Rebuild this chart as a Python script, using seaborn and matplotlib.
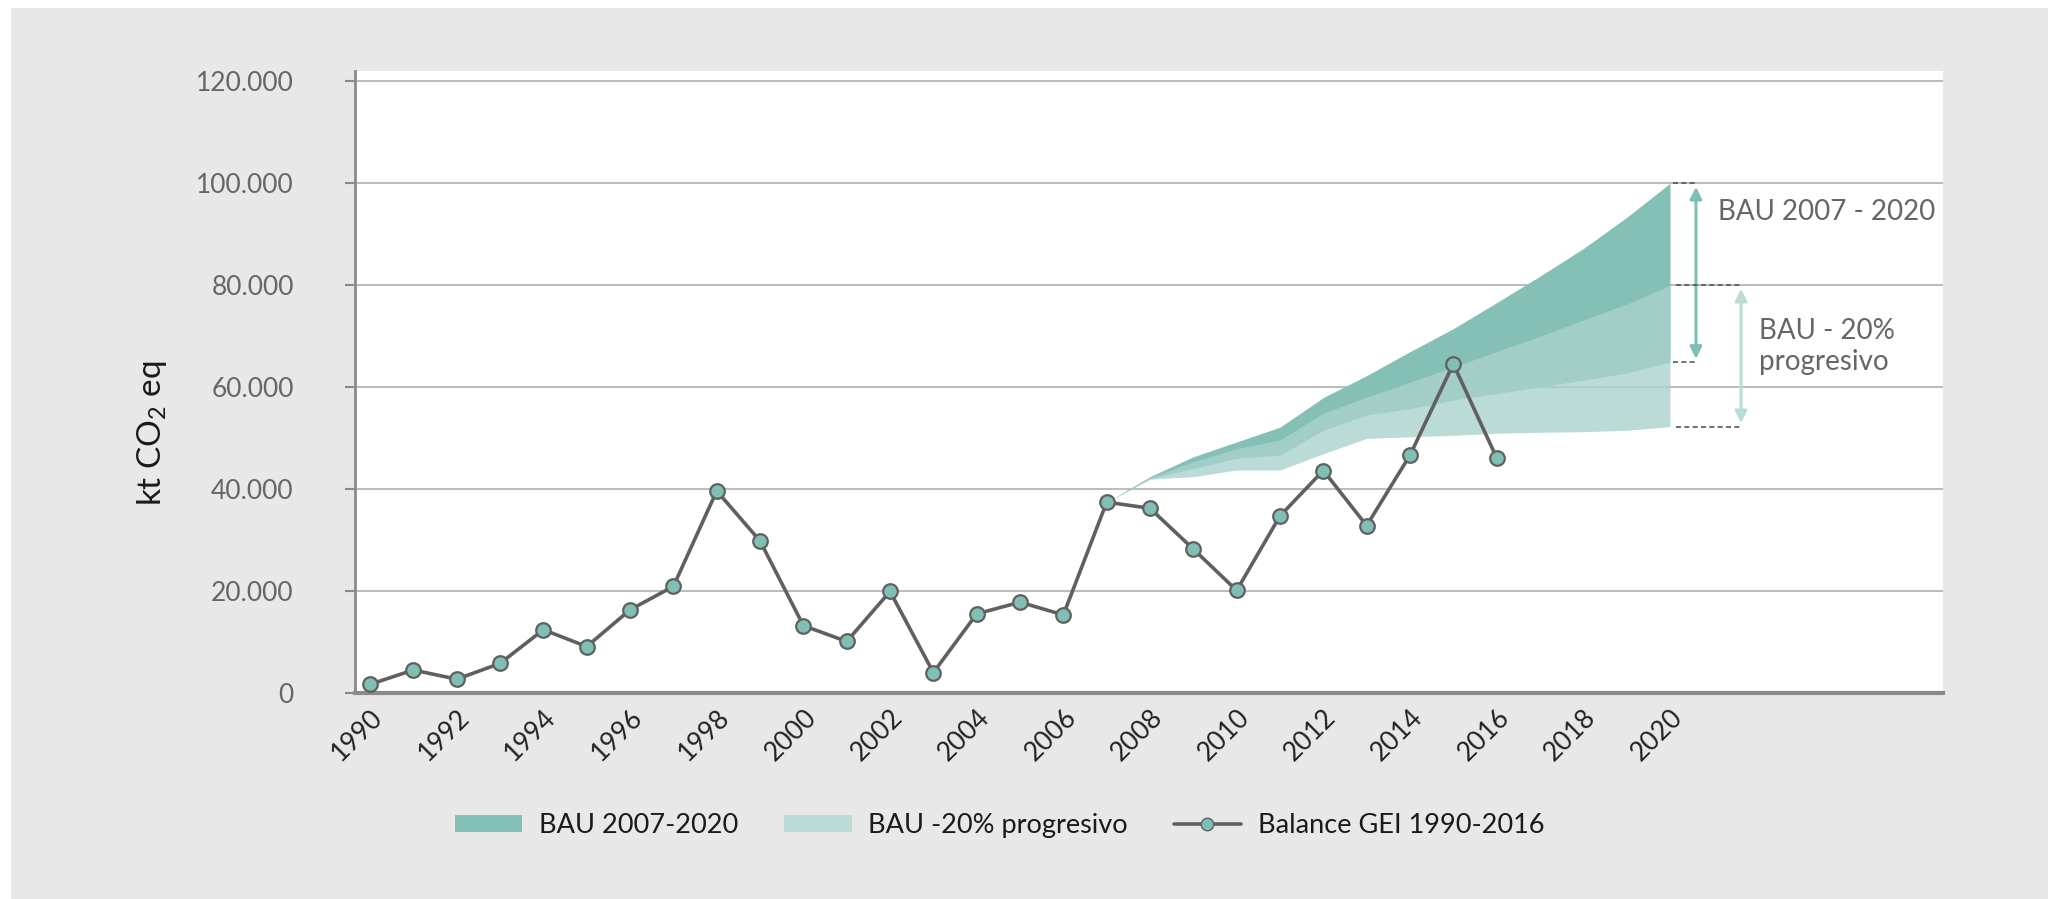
#	Balance GEI 1990-2016 y escenarios BAU 2007-2020

#Import Necessary Libraries
import numpy as np
import pandas as pd
import seaborn as sns
from matplotlib import pyplot as plt
from matplotlib.patches import Patch, Rectangle
from matplotlib.lines import Line2D
from matplotlib.ticker import FuncFormatter

#Data Creation
years = list(range(1990, 2017))
balance = [1800, 4600, 2800, 5900, 12500, 9200, 16400, 21000, 39700, 29900,
           13300, 10200, 20000, 4100, 15600, 17900, 15400, 37500, 36300, 28300,
           20200, 34800, 43700, 32900, 46700, 64600, 46200]

proj_years = list(range(2007, 2021))
bau_top = [37500, 42500, 46400, 49300, 52200, 58000, 62300, 67000, 71500,
           76600, 81800, 87200, 93300, 100000]
bau_low = [37500, 42100, 44100, 46100, 46700, 51600, 54600, 55800, 57500,
           58800, 60100, 61400, 62800, 65000]
b20_top = [37500, 42300, 45400, 48000, 49700, 54900, 58100, 61000, 64000,
           67000, 70000, 73200, 76300, 80000]
b20_low = [37500, 42000, 42500, 43800, 43800, 47000, 50000, 50300, 50600,
           51000, 51200, 51300, 51600, 52300]

x_ticks = list(range(1990, 2021, 2))
y_ticks = [0, 20000, 40000, 60000, 80000, 100000, 120000]

#Creating DataFrames
gei_data = pd.DataFrame({'Year': years, 'Balance': balance})
proj_data = pd.DataFrame({'Year': proj_years, 'BAU top': bau_top, 'BAU low': bau_low,
                          'B20 top': b20_top, 'B20 low': b20_low})

#Colours
dark_teal = '#85c0b7'
light_teal = '#aad2cc'
legend_light = '#badbd6'
line_grey = '#606060'
bg_grey = '#e8e8e8'

#Style
sns.set_style('white')
plt.rcParams['font.family'] = ['Lato', 'DejaVu Sans']
plt.rcParams['mathtext.fontset'] = 'custom'
plt.rcParams['mathtext.rm'] = 'Lato'
plt.rcParams['ytick.left'] = True
plt.rcParams['ytick.major.size'] = 7
plt.rcParams['ytick.major.pad'] = 37

fig = plt.figure(figsize=(20.48, 8.99), dpi=100, facecolor=bg_grey)
fig.patches.append(Rectangle((0, 0), 0.0054, 1, transform=fig.transFigure,
                             facecolor='white', edgecolor='none', zorder=0))
fig.patches.append(Rectangle((0, 0.991), 1, 0.01, transform=fig.transFigure,
                             facecolor='white', edgecolor='none', zorder=0))

ax = fig.add_axes([0.1733, 0.2286, 0.7754, 0.6924])
ax.set_facecolor('white')

#Projection bands
ax.fill_between(proj_data['Year'], proj_data['BAU low'], proj_data['BAU top'],
                color=dark_teal, linewidth=0, zorder=2)
ax.fill_between(proj_data['Year'], proj_data['B20 low'], proj_data['B20 top'],
                color=light_teal, alpha=0.8, linewidth=0, zorder=3)

#Balance line
sns.lineplot(data=gei_data, x='Year', y='Balance', ax=ax, color=line_grey,
             linewidth=2.6, marker='o', markersize=10.5, markerfacecolor='#7fbfb5',
             markeredgecolor=line_grey, markeredgewidth=1.6, zorder=5, legend=False)

#Axes
ax.set_xlim(1989.65, 2026.3)
ax.set_ylim(0, 122000)
ax.set_xticks(x_ticks)
ax.set_yticks(y_ticks)
ax.yaxis.set_major_formatter(FuncFormatter(lambda v, p: '0' if v == 0 else f'{int(v):,}'.replace(',', '.')))
ax.set_xticklabels([str(y) for y in x_ticks], rotation=45, ha='right', va='top',
                   rotation_mode='anchor', fontsize=19, color='#222222')
ax.set_xlabel('')
ax.set_ylabel('')
ax.yaxis.grid(True, color='#bdbdbd', linewidth=1.5, zorder=0)
ax.xaxis.grid(False)
ax.set_axisbelow(True)
for side in ['top', 'right']:
    ax.spines[side].set_visible(False)
ax.spines['left'].set_color('#8a8a8a')
ax.spines['left'].set_linewidth(2)
ax.spines['bottom'].set_color('#8a8a8a')
ax.spines['bottom'].set_linewidth(3)
ax.tick_params(axis='x', length=0, pad=8)
ax.tick_params(axis='y', which='major', left=True, direction='out', length=7,
               width=1.5, color='#8a8a8a', pad=37, labelsize=19, labelcolor='#666666')

fig.text(152 / 2048, 1 - 433 / 899, 'kt CO$_2$ eq', rotation=90, ha='center',
         va='center', fontsize=24, color='#1a1a1a')

#Range annotations
for yv, x0, x1 in [(100000, 2020.07, 2020.6), (65000, 2020.07, 2020.6),
                   (80000, 2020.14, 2021.64), (52300, 2020.14, 2021.64)]:
    ax.plot([x0, x1], [yv, yv], color='#555555', linewidth=1.2, linestyle=(0, (3, 2)),
            clip_on=False, zorder=4)

ax.annotate('', xy=(2020.6, 99300), xytext=(2020.6, 65600),
            arrowprops=dict(arrowstyle='<|-|>,head_length=0.7,head_width=0.35',
                            color='#7fbfb5', lw=2.2, shrinkA=0, shrinkB=0))
ax.annotate('', xy=(2021.64, 79300), xytext=(2021.64, 53000),
            arrowprops=dict(arrowstyle='<|-|>,head_length=0.7,head_width=0.35',
                            color='#badbd6', lw=2.2, shrinkA=0, shrinkB=0))
ax.text(2021.1, 94300, 'BAU 2007 - 2020', ha='left', va='center', fontsize=20,
        color='#666666')
ax.text(2022.05, 68000, 'BAU - 20%\nprogresivo', ha='left', va='center', fontsize=20,
        color='#666666', linespacing=1.2)

#Legend
handles = [Patch(facecolor=dark_teal, edgecolor='none'),
           Patch(facecolor=legend_light, edgecolor='none'),
           Line2D([], [], color=line_grey, linewidth=2.6, marker='o', markersize=9,
                  markerfacecolor='#7fbfb5', markeredgecolor=line_grey)]
labels = ['BAU 2007-2020', 'BAU -20% progresivo', 'Balance GEI 1990-2016']
fig.legend(handles, labels, loc='center', bbox_to_anchor=(0.488, 0.082), ncol=3,
           frameon=False, fontsize=19.5, handlelength=2.5, handleheight=0.6,
           handletextpad=0.6, columnspacing=1.7, labelcolor='#1a1a1a')

#Save Plot
fig.savefig('out.png', dpi=100, facecolor=fig.get_facecolor())
